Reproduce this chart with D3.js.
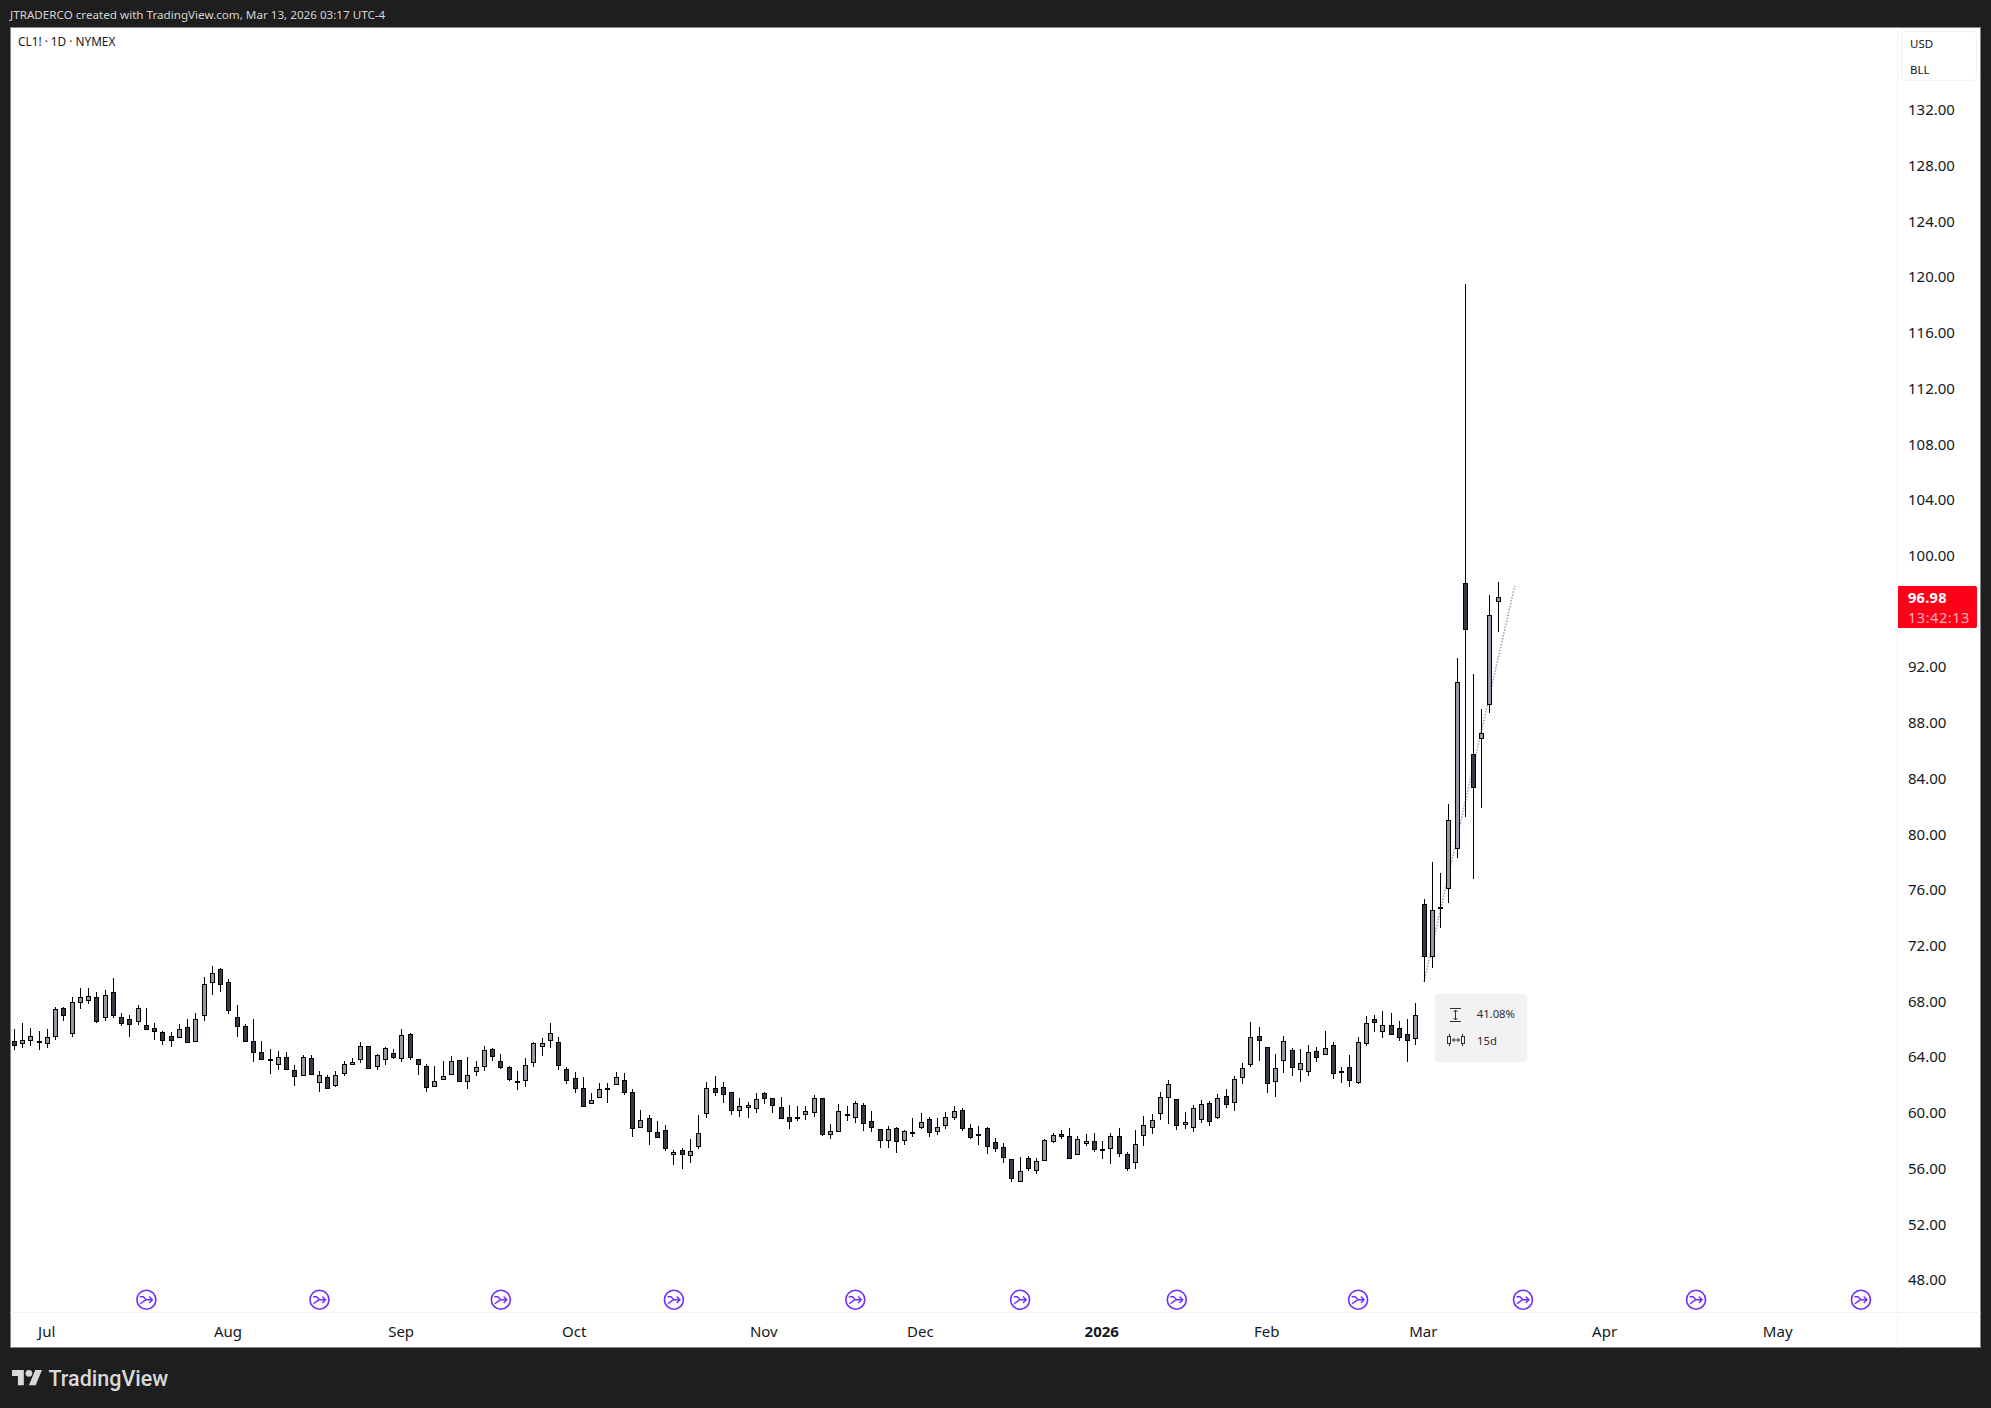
<!DOCTYPE html>
<html><head><meta charset="utf-8">
<script src="https://cdn.jsdelivr.net/npm/d3@7/dist/d3.min.js"></script>
<style>html,body{margin:0;padding:0;background:#1e1e1e}svg{display:block}</style>
</head><body><svg id="c" width="1991" height="1408"></svg>
<script>
const titleText = "JTRADERCO created with TradingView.com, Mar 13, 2026 03:17 UTC-4";
const symbolText = "CL1! · 1D · NYMEX";
const priceTicks = [48,52,56,60,64,68,72,76,80,84,88,92,96,100,104,108,112,116,120,124,128,132];
const monthLabels = ["Jul","Aug","Sep","Oct","Nov","Dec","2026","Feb","Mar","Apr","May"];
const monthBars = [4,26,47,68,91,110,132,152,171,193,214];
const eventBars = [16,37,59,80,102,122,141,163,183,204,224];
const lastPrice = 96.98;
const countdown = "13:42:13";
const measureLow = 69.40, measureHigh = 97.81, measureStartBar = 171, measureEndBar = 182;
const measurePct = "41.08%", measureSpan = "15d";

const opens = [65.12,64.96,65.24,65.15,64.96,65.53,67.49,65.70,67.92,68.11,68.28,66.85,68.64,66.85,66.70,66.56,66.27,66.06,65.77,65.48,65.41,66.13,65.12,66.99,69.36,70.29,69.36,66.85,66.20,65.12,64.33,63.85,63.47,63.97,63.04,62.73,63.90,62.18,62.54,61.96,62.83,63.47,63.83,64.76,63.33,63.83,64.26,63.90,65.63,
63.83,63.33,61.94,62.39,62.75,63.76,62.25,62.97,63.33,64.55,63.69,63.26,62.28,62.32,63.62,64.76,65.19,65.05,63.11,62.47,61.75,60.67,61.10,61.75,62.04,62.32,61.46,58.95,59.59,58.59,58.73,57.01,57.30,56.94,57.58,59.95,61.75,61.82,61.46,60.17,60.38,60.31,61.39,61.03,60.38,59.67,59.71,59.88,60.03,
61.03,58.45,58.66,59.88,59.67,60.53,59.38,58.80,58.01,58.88,58.01,58.59,58.95,59.52,58.66,59.09,59.67,60.17,58.88,58.45,58.88,57.87,57.51,56.65,55.07,56.72,55.86,56.58,57.94,58.45,58.30,57.01,57.80,57.94,57.37,57.44,58.30,57.01,56.44,58.37,58.95,59.95,61.10,60.96,59.16,58.95,59.52,60.67,59.67,
61.17,60.74,62.53,63.47,65.48,64.69,62.25,63.75,64.47,63.11,62.96,64.40,64.18,64.83,62.96,63.25,62.17,64.97,66.70,65.83,66.27,66.05,65.62,65.33,
74.96,71.23,74.74,76.11,79.02,98.00,85.73,86.87,89.32,96.71];
const closes = [64.88,65.19,65.48,65.10,65.41,67.42,66.97,67.92,68.28,68.35,66.56,68.43,66.99,66.46,66.34,67.49,66.03,65.89,65.24,65.24,65.98,65.10,66.70,69.22,70.00,69.22,67.35,66.25,65.12,64.33,63.83,63.81,63.97,63.16,62.59,63.97,62.75,62.68,61.75,62.68,63.47,63.62,64.76,63.23,64.12,64.62,63.97,65.55,63.97,
63.47,61.82,62.25,62.61,63.69,62.30,62.68,63.26,64.48,64.05,63.26,62.39,62.23,63.40,64.98,64.98,65.70,63.40,62.32,61.75,60.46,60.89,61.68,61.72,62.54,61.46,58.88,59.45,58.66,58.23,57.44,57.15,57.01,57.23,58.52,61.75,61.46,61.32,60.17,60.46,60.53,60.96,61.03,60.53,59.59,59.38,59.67,60.10,61.03,
58.45,58.66,60.10,59.81,60.67,59.24,58.95,58.01,58.80,57.94,58.66,58.57,59.31,58.59,58.95,59.67,60.10,58.88,58.23,58.37,57.58,57.44,56.79,55.29,55.79,56.00,56.51,58.01,58.37,58.30,56.72,58.09,57.94,57.37,57.30,58.30,57.08,56.00,57.73,59.09,59.45,61.10,62.04,59.09,59.31,60.31,60.60,59.38,61.03,
60.59,62.39,63.18,65.40,65.19,62.10,63.18,65.12,63.25,63.54,64.33,63.97,64.61,62.82,62.89,62.32,65.05,66.41,66.48,66.27,65.62,65.40,65.19,66.98,
71.23,74.53,74.67,80.99,90.89,94.74,83.40,87.23,95.70,96.98];
const highs = [66.01,66.44,66.08,65.86,66.01,67.59,67.56,68.31,68.95,68.95,68.66,68.81,69.67,67.13,66.99,67.71,67.52,66.44,65.84,65.77,66.37,66.73,67.13,69.74,70.53,70.36,69.60,67.71,66.34,66.73,65.15,64.57,64.41,64.36,63.42,64.12,64.12,62.97,62.68,62.97,63.69,63.93,65.05,64.76,64.19,64.69,64.55,66.01,65.70,
63.83,63.47,63.35,63.71,64.07,63.76,64.00,63.71,64.76,64.62,64.19,63.33,62.99,63.90,65.05,65.36,66.44,65.43,63.26,62.90,62.54,61.41,62.11,62.11,62.92,62.83,61.68,60.17,59.81,59.38,59.09,57.32,57.44,58.09,59.81,62.18,62.61,62.18,61.46,61.08,60.74,61.39,61.46,61.03,61.10,60.53,60.46,60.46,61.25,
61.03,59.19,60.60,60.48,60.84,60.67,60.12,58.80,59.02,58.95,58.73,59.59,59.95,59.67,59.59,60.03,60.46,60.31,59.16,59.02,58.95,58.16,57.80,56.65,56.79,56.87,56.72,58.09,58.52,58.73,58.88,58.30,58.45,58.52,57.94,58.52,58.88,57.15,58.73,59.74,59.88,61.46,62.32,60.96,60.03,60.53,60.89,60.81,61.32,
61.67,62.60,63.54,66.50,66.15,64.69,64.21,65.48,64.61,64.54,64.85,64.69,65.86,65.05,63.25,64.11,65.40,66.91,67.01,67.27,67.13,66.55,66.70,67.84,
75.32,78.00,77.20,82.16,92.62,119.49,91.47,88.96,97.16,98.10];
const lows = [64.52,64.67,64.79,64.52,64.67,65.24,66.54,65.43,67.40,67.76,66.46,66.54,66.82,66.25,65.46,66.32,65.94,65.24,64.88,64.74,65.39,65.03,65.12,66.54,68.47,68.62,67.11,65.46,65.03,63.66,63.74,62.80,63.02,63.11,61.94,62.59,62.75,61.51,61.68,61.87,62.59,63.38,63.59,63.16,63.02,63.38,63.88,63.66,63.74,
62.73,61.51,61.87,62.39,62.75,62.23,61.72,62.59,62.95,63.73,63.11,62.23,61.65,61.87,63.30,64.09,64.67,63.02,62.08,61.44,60.46,60.58,61.10,60.72,62.04,61.29,58.28,58.95,57.70,58.23,57.27,56.20,55.98,56.41,57.35,59.64,61.22,60.72,59.79,59.71,59.64,60.00,60.58,60.00,59.59,58.85,59.36,59.43,59.71,
58.35,58.13,58.66,59.36,59.28,58.71,58.64,57.42,57.42,57.13,57.70,58.28,58.85,58.28,58.42,58.85,59.43,58.71,58.13,57.70,57.06,57.20,56.41,54.98,55.07,55.77,55.62,56.58,57.78,58.13,56.72,56.94,57.63,57.20,56.63,56.34,56.84,55.77,55.98,57.63,58.49,59.50,59.21,58.78,58.85,58.57,59.28,59.00,59.57,
60.35,60.14,62.08,63.30,63.68,61.43,61.14,62.87,62.65,62.22,62.65,63.66,64.18,62.44,62.15,61.86,62.08,64.81,65.81,65.38,65.62,65.16,63.66,64.88,
69.35,70.41,73.26,75.03,78.30,81.25,76.75,81.85,88.67,94.53];

const BG="#1e1e1e", UP="#9598a1", DOWN="#363a45", WICK="#000000", TXT="#131722", GRID="#f0f3fa", PURPLE="#6f2dff";
const FONT="'Noto Sans',sans-serif";
const plot={l:10.5,t:27.5,r:1980.5,b:1347.5,axisX:1897.5,axisY:1312.5};
const svg=d3.select("#c").style("font-family",FONT);

const y=d3.scaleLinear().domain([48,132]).range([1279.7,109.7]);
const x=d3.scaleLinear().domain([0,180]).range([14.5,1498.24]);
const px=i=>Math.floor(x(i))+0.5;
const py=v=>Math.round(y(v));

svg.append("rect").attr("width",1991).attr("height",1408).attr("fill",BG);
svg.append("rect").attr("x",plot.l).attr("y",plot.t).attr("width",plot.r-plot.l).attr("height",plot.b-plot.t)
  .attr("fill","#fff").attr("stroke","#858585");
svg.append("line").attr("x1",plot.axisX).attr("x2",plot.axisX).attr("y1",plot.t).attr("y2",plot.b).attr("stroke",GRID);
svg.append("line").attr("x1",plot.l).attr("x2",plot.r).attr("y1",plot.axisY).attr("y2",plot.axisY).attr("stroke",GRID);

svg.append("text").text(titleText).attr("x",10).attr("y",19).attr("fill","#d4d4d4").attr("font-size",11.65);
svg.append("text").text(symbolText).attr("x",18).attr("y",46).attr("fill",TXT).attr("font-size",11.8);

// price axis
const yAxis=d3.axisRight(y).tickValues(priceTicks).tickFormat(d3.format(".2f")).tickSize(0).tickPadding(0);
const gy=svg.append("g").attr("transform","translate(1908,0.3)").call(yAxis);
gy.select(".domain").remove();
gy.selectAll("text").attr("font-size",15).attr("font-family",FONT).attr("fill",TXT);

// time axis
const xAxis=d3.axisBottom(x).tickValues(monthBars).tickFormat((d,i)=>monthLabels[i]).tickSize(0).tickPadding(0);
const gx=svg.append("g").attr("transform","translate(-1.3,1326)").call(xAxis);
gx.select(".domain").remove();
gx.selectAll("text").attr("font-size",15).attr("font-family",FONT).attr("fill",TXT)
  .attr("font-weight",(d,i)=>monthLabels[i]==="2026"?700:400);

// currency box
svg.append("rect").attr("x",1901.5).attr("y",31.5).attr("width",75).attr("height",49).attr("rx",4)
  .attr("fill","#fff").attr("stroke","#f0f3fa");
svg.append("text").text("USD").attr("x",1910).attr("y",48).attr("font-size",11.5).attr("fill",TXT);
svg.append("text").text("BLL").attr("x",1910).attr("y",74).attr("font-size",11.5).attr("fill",TXT);

// events
const ev=svg.append("g").selectAll("g").data(eventBars).join("g")
  .attr("transform",d=>`translate(${x(d)},1299.7)`).attr("fill","none").attr("stroke",PURPLE);
ev.append("circle").attr("r",9.5).attr("stroke-width",1.6).attr("fill","#fff");
ev.append("path").attr("stroke-width",1.4).attr("d","M-6.5,-3L-3,-3L0,0L6,0M-6,4L-2.5,1.5L0,0M2.8,-3.2L6,0L2.8,3.2");

// measure line
svg.append("line").attr("x1",x(measureStartBar)).attr("y1",y(measureLow)).attr("x2",x(measureEndBar)).attr("y2",y(measureHigh))
  .attr("stroke","#9a9da6").attr("stroke-width",1.5).attr("stroke-dasharray","1.5 1.5");

// candles
const idx=d3.range(opens.length);
const c=svg.append("g").selectAll("g").data(idx).join("g");
c.append("line").attr("x1",px).attr("x2",px).attr("y1",i=>py(highs[i])).attr("y2",i=>py(lows[i]))
  .attr("stroke",WICK).attr("stroke-width",1);
c.append("rect").attr("x",i=>px(i)-2).attr("width",4)
  .attr("y",i=>py(Math.max(opens[i],closes[i]))+0.5)
  .attr("height",i=>Math.max(1,py(Math.min(opens[i],closes[i]))-py(Math.max(opens[i],closes[i]))))
  .attr("fill",i=>closes[i]>=opens[i]?UP:DOWN).attr("stroke",WICK).attr("stroke-width",1);

// measure box
const mx=1435,my=994;
svg.append("rect").attr("x",mx).attr("y",my).attr("width",92).attr("height",68).attr("rx",4).attr("fill","#f2f2f2");
svg.append("text").text(measurePct).attr("x",1476.7).attr("y",1018).attr("font-size",11.3).attr("fill","#2a2e39");
svg.append("text").text(measureSpan).attr("x",1477).attr("y",1045).attr("font-size",11.3).attr("fill","#2a2e39");
const ic=svg.append("g").attr("fill","none").attr("stroke","#2a2e39").attr("stroke-width",1);
ic.append("path").attr("d","M1450,1008.5H1461M1450,1021.5H1461M1455.5,1010V1020M1453.5,1012L1455.5,1010L1457.5,1012M1453.5,1018L1455.5,1020L1457.5,1018");
ic.append("path").attr("d","M1449.5,1034V1046M1462.5,1034V1046M1452.5,1040H1459.5M1454.5,1038L1452.5,1040L1454.5,1042M1457.5,1038L1459.5,1040L1457.5,1042");
ic.append("rect").attr("x",1447.5).attr("y",1036.5).attr("width",3).attr("height",7).attr("fill","#f2f2f2");
ic.append("rect").attr("x",1461.5).attr("y",1036.5).attr("width",3).attr("height",7).attr("fill","#f2f2f2");

// last price label
svg.append("path").attr("fill","#ff0019").attr("d","M1898,586H1975a2,2 0 0 1 2,2V626a2,2 0 0 1 -2,2H1898Z");
svg.append("text").text(lastPrice.toFixed(2)).attr("x",1908).attr("y",602.5).attr("font-size",14.5).attr("letter-spacing",0.3).attr("font-weight",700).attr("fill","#fff");
svg.append("text").text(countdown).attr("x",1908).attr("y",622.5).attr("font-size",14.5).attr("letter-spacing",0.55).attr("fill","#ffb3ba");

// logo
const lg=svg.append("g").attr("transform","translate(12,1366.6) scale(0.845)").attr("fill","#d9d9d9");
lg.append("path").attr("d","M14 22H7V11H0V4h14v18zM28 22h-8l7.5-18h8L28 22z");
lg.append("circle").attr("cx",20).attr("cy",8).attr("r",4);
svg.append("text").text("TradingView").attr("x",48.5).attr("y",1385.5).attr("font-size",21.5).attr("font-family","Roboto,sans-serif").attr("font-weight",500).attr("fill","#d9d9d9");
</script></body></html>
